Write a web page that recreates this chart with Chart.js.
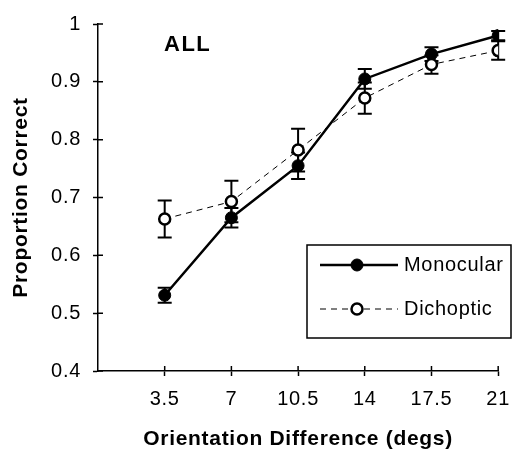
<!DOCTYPE html>
<html>
<head>
<meta charset="utf-8">
<script src="https://cdn.jsdelivr.net/npm/chart.js@4.4.1/dist/chart.umd.min.js"></script>
<style>
  html, body { margin: 0; padding: 0; background: #fff; }
  #wrap { width: 521px; height: 455px; position: relative; }
</style>
</head>
<body>
<div id="wrap"><canvas id="mycanvas"></canvas></div>
<script>
// data
var orientations = [3.5, 7, 10.5, 14, 17.5, 21];
var monocular = [0.531, 0.665, 0.755, 0.905, 0.948, 0.980];
var monocularErr = [0.013, 0.017, 0.023, 0.017, 0.012, 0.008];
var dichoptic = [0.663, 0.693, 0.782, 0.872, 0.930, 0.954];
var dichopticErr = [0.032, 0.036, 0.037, 0.027, 0.016, 0.016];
var xTicks = [3.5, 7, 10.5, 14, 17.5, 21];
var yTicks = [0.4, 0.5, 0.6, 0.7, 0.8, 0.9, 1];
var seriesNames = ['Monocular', 'Dichoptic'];

var FONT = 'Arial, "Liberation Sans", Helvetica, sans-serif';

function points(ys) {
    var out = [];
    for (var i in orientations) {
        out.push({ x: orientations[i], y: ys[i] });
    }
    return out;
}

// the scanned lettering is a bit wider than Arial
const spacing = {
    id: 'spacing',
    beforeLayout(chart) { chart.ctx.letterSpacing = '0.7px'; },
    beforeDraw(chart) { chart.ctx.letterSpacing = '0.7px'; }
};

// error bars, drawn under the markers
const errorBars = {
    id: 'errorBars',
    beforeDatasetsDraw(chart) {
        var ctx = chart.ctx;
        var x = chart.scales.x, y = chart.scales.y;
        var sets = [[monocular, monocularErr], [dichoptic, dichopticErr]];
        ctx.save();
        ctx.strokeStyle = '#000';
        ctx.lineWidth = 2;
        sets.forEach(function (s) {
            for (var i in orientations) {
                var px = x.getPixelForValue(orientations[i]);
                var top = y.getPixelForValue(s[0][i] + s[1][i]);
                var bot = y.getPixelForValue(s[0][i] - s[1][i]);
                ctx.beginPath();
                ctx.moveTo(px, top); ctx.lineTo(px, bot);
                ctx.moveTo(px - 7, top); ctx.lineTo(px + 7, top);
                ctx.moveTo(px - 7, bot); ctx.lineTo(px + 7, bot);
                ctx.stroke();
            }
        });
        ctx.restore();
    }
};

// inner halves of the tick marks, the "ALL" label and the boxed legend
const extras = {
    id: 'extras',
    afterDraw(chart) {
        var ctx = chart.ctx;
        var x = chart.scales.x, y = chart.scales.y;
        var a = chart.chartArea;
        ctx.save();
        ctx.strokeStyle = '#000';
        ctx.lineWidth = 1.5;
        ctx.beginPath();
        yTicks.forEach(function (v) {
            var py = y.getPixelForValue(v);
            ctx.moveTo(a.left, py); ctx.lineTo(a.left + 5, py);
        });
        xTicks.forEach(function (v) {
            var px = x.getPixelForValue(v);
            ctx.moveTo(px, a.bottom); ctx.lineTo(px, a.bottom - 5);
        });
        ctx.stroke();

        ctx.fillStyle = '#000';
        ctx.font = 'bold 22px ' + FONT;
        ctx.textAlign = 'left';
        ctx.textBaseline = 'alphabetic';
        ctx.letterSpacing = '1.5px';
        ctx.fillText('ALL', 164, 51);
        ctx.letterSpacing = '0.7px';

        // legend box
        var lx = 307, ly = 245, lw = 204, lh = 93;
        ctx.lineWidth = 1.5;
        ctx.strokeRect(lx, ly, lw, lh);
        var rows = [ly + 20, ly + 64];
        chart.data.datasets.forEach(function (ds, i) {
            var ry = rows[i];
            ctx.save();
            ctx.strokeStyle = ds.borderColor;
            ctx.lineWidth = ds.borderWidth;
            ctx.setLineDash(ds.borderDash || []);
            ctx.beginPath();
            ctx.moveTo(lx + 13, ry); ctx.lineTo(lx + 91, ry);
            ctx.stroke();
            ctx.setLineDash([]);
            ctx.beginPath();
            ctx.arc(lx + 50, ry, ds.pointRadius, 0, Math.PI * 2);
            ctx.fillStyle = ds.pointBackgroundColor;
            ctx.fill();
            ctx.lineWidth = ds.pointBorderWidth;
            ctx.strokeStyle = ds.pointBorderColor;
            ctx.stroke();
            ctx.restore();
            ctx.fillStyle = '#000';
            ctx.font = '20px ' + FONT;
            ctx.textBaseline = 'middle';
            ctx.fillText(ds.label, lx + 97, ry);
        });
        ctx.restore();
    }
};

var ctx = document.getElementById('mycanvas');
var chart = new Chart(ctx, {
    type: 'line',
    data: {
        datasets: [{
            label: seriesNames[0],
            data: points(monocular),
            borderColor: '#000',
            borderWidth: 2.5,
            pointRadius: 6,
            pointBackgroundColor: '#000',
            pointBorderColor: '#000',
            pointBorderWidth: 1,
            order: 2
        }, {
            label: seriesNames[1],
            data: points(dichoptic),
            borderColor: '#000',
            borderWidth: 1,
            borderDash: [6, 5],
            pointRadius: 5.5,
            pointBackgroundColor: '#fff',
            pointBorderColor: '#000',
            pointBorderWidth: 2.5,
            order: 1
        }]
    },
    options: {
        responsive: true,
        maintainAspectRatio: false,
        animation: false,
        layout: { padding: { left: 0, right: 12, top: 20, bottom: 0 } },
        plugins: { legend: { display: false }, tooltip: { enabled: false } },
        scales: {
            x: {
                type: 'linear',
                min: 0,
                max: 21,
                afterBuildTicks: function (s) { s.ticks = xTicks.map(function (v) { return { value: v }; }); },
                afterFit: function (s) { s.height = 84; },
                border: { color: '#000', width: 1.5 },
                grid: { drawOnChartArea: false, drawTicks: true, tickLength: 5, tickColor: '#000', tickWidth: 1.5 },
                ticks: {
                    color: '#000',
                    padding: 11,
                    maxRotation: 0,
                    font: { family: FONT, size: 20 },
                    callback: function (v) { return String(v); }
                },
                title: {
                    display: true,
                    text: 'Orientation Difference (degs)',
                    color: '#000',
                    font: { family: FONT, size: 21, weight: 'bold' },
                    padding: { top: 0, bottom: 3 }
                }
            },
            y: {
                min: 0.4,
                max: 1,
                afterBuildTicks: function (s) { s.ticks = yTicks.map(function (v) { return { value: v }; }); },
                afterFit: function (s) { s.width = 98; },
                border: { color: '#000', width: 1.5 },
                grid: { drawOnChartArea: false, drawTicks: true, tickLength: 5, tickColor: '#000', tickWidth: 1.5 },
                ticks: {
                    color: '#000',
                    padding: 12,
                    font: { family: FONT, size: 20 },
                    callback: function (v) { return String(v); }
                },
                title: {
                    display: true,
                    text: 'Proportion Correct',
                    color: '#000',
                    font: { family: FONT, size: 21, weight: 'bold' },
                    padding: { top: 9, bottom: 0 }
                }
            }
        }
    },
    plugins: [spacing, errorBars, extras]
});
</script>
</body>
</html>
